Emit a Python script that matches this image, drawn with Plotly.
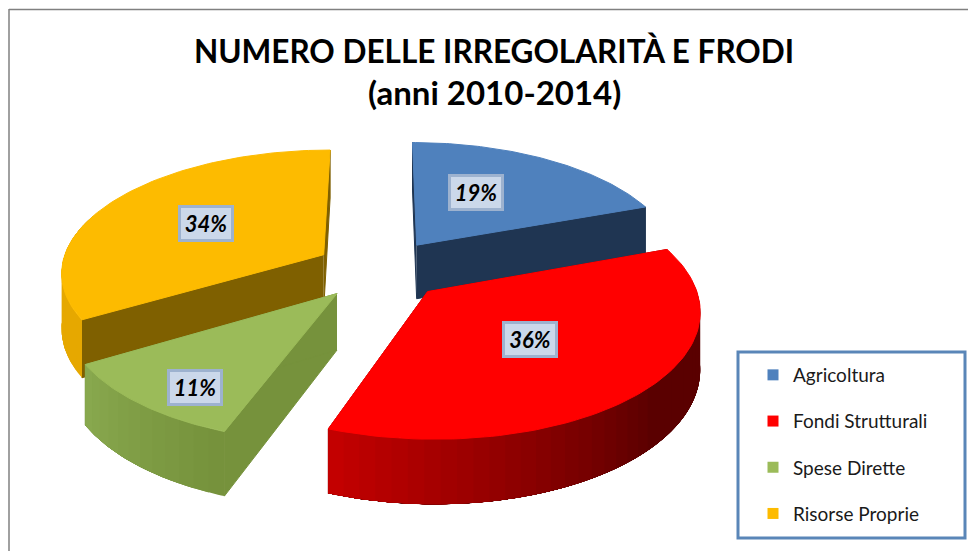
import numpy as np
import plotly.graph_objects as go

# ---------- data ----------
categories = ["Agricoltura", "Fondi Strutturali", "Spese Dirette", "Risorse Proprie"]
shares = [19.4, 36.2, 10.8, 33.6]
title_line_1 = "NUMERO DELLE IRREGOLARITÀ E FRODI"
title_line_2 = "(anni 2010-2014)"

# ---------- styles ----------
top_colors = ["#4F81BD", "#FF0000", "#9BBB59", "#FDBB00"]
wall_colors = ["#1F3552", "#8A0000", "#76923C", "#7F6000"]
rim_light = ["#1F3552", "#C80000", "#8AAA50", "#E6A800"]
rim_dark = ["#1F3552", "#5A0000", "#76923C", "#E6A800"]
FONT = "Lato, Carlito, Calibri, sans-serif"
W, H = 968, 551

# projection of the tilted pie onto the page (pixel axes)
X0, Y0, A, B, P, DEPTH, EXPLODE = 380, 269.5, 263, 122, 0.131, 55, 0.25
# label anchor inside each slice: radius in the disc, angle clockwise from top
label_r = [0.55, 0.50, 0.81, 0.55]
label_deg = [27.6, 135, 215, 299.5]
draw_order = [3, 0, 2, 1]


def project(u, v, z=0.0):
    w = 1 + P * v
    return X0 + A * u / w, Y0 - B * v / w + z * DEPTH / w


def hex_rgb(c):
    return np.array([int(c[i:i + 2], 16) for i in (1, 3, 5)], float)


def mix(c1, c2, t):
    r = hex_rgb(c1) * (1 - t) + hex_rgb(c2) * t
    return "rgb(%d,%d,%d)" % tuple(r)


def poly(xs, ys, color, width=1):
    return go.Scatter(x=list(xs), y=list(ys), mode="lines", fill="toself", fillcolor=color,
                      line=dict(color=color, width=width), hoverinfo="skip", showlegend=False)


edges = np.radians(np.concatenate([[0], np.cumsum(shares)]) * 3.6)
fig = go.Figure()
annos = []

for i in draw_order:
    t0, t1 = edges[i], edges[i + 1]
    mid = (t0 + t1) / 2
    cu, cv = EXPLODE * np.sin(mid), EXPLODE * np.cos(mid)
    th = np.linspace(t0, t1, 90)
    ru, rv = cu + np.sin(th), cv + np.cos(th)

    # radial walls
    for t in (t0, t1):
        eu, ev = cu + np.sin(t), cv + np.cos(t)
        p = [project(cu, cv), project(eu, ev), project(eu, ev, 1), project(cu, cv, 1)]
        fig.add_trace(poly([q[0] for q in p], [q[1] for q in p], wall_colors[i]))

    # outer rim: overlapping shaded strips, each painted from its angle to the rim's end
    lo, hi = max(t0, np.radians(85)), min(t1, np.radians(290))
    if hi > lo:
        steps = np.linspace(lo, hi, max(2, int(np.degrees(hi - lo) / 3) + 1))
        for a in steps[:-1]:
            seg = np.linspace(a, hi, 60)
            su, sv = cu + np.sin(seg), cv + np.cos(seg)
            x1, y1 = project(su, sv)
            x2, y2 = project(su[::-1], sv[::-1], 1)
            span = np.radians(70) if i == 1 else (hi - lo)
            k = np.clip((hi - a) / max(span, 1e-6), 0, 1)
            fig.add_trace(poly(np.r_[x1, x2], np.r_[y1, y2], mix(rim_light[i], rim_dark[i], k), width=0))

    # top face
    x, y = project(np.r_[cu, ru], np.r_[cv, rv])
    fig.add_trace(poly(np.r_[x, x[0]], np.r_[y, y[0]], top_colors[i]))

    # data label
    lt = np.radians(label_deg[i])
    lx, ly = project(cu + label_r[i] * np.sin(lt), cv + label_r[i] * np.cos(lt))
    annos.append(dict(x=lx, y=ly, xref="x", yref="y", text="<b><i>%d%%</i></b>" % round(shares[i]),
                      showarrow=False, font=dict(family=FONT, size=22, color="#000000"),
                      bgcolor="#CBD8EA", bordercolor="#9DB2CF", borderwidth=3,
                      width=48, height=29, align="center", valign="middle"))

# legend entries
for name, color in zip(categories, top_colors):
    fig.add_trace(go.Scatter(x=[None], y=[None], mode="markers", name=name, legendgroup=name,
                             marker=dict(symbol="square", size=11, color=color)))

annos.append(dict(x=494, y=92, xref="x", yref="y", text="<b>%s</b>" % title_line_2, showarrow=False,
                  font=dict(family=FONT, size=33, color="#000000")))

fig.update_layout(
    width=W, height=H, margin=dict(l=0, r=0, t=0, b=0),
    paper_bgcolor="white", plot_bgcolor="white",
    title=dict(text="<b>%s</b>" % title_line_1, x=494 / W, xanchor="center",
               y=1 - 52 / H, yanchor="middle", font=dict(family=FONT, size=31.5, color="#000000")),
    xaxis=dict(range=[0, W], visible=False, fixedrange=True),
    yaxis=dict(range=[H, 0], visible=False, fixedrange=True),
    legend=dict(x=753 / W, xanchor="left", y=1 - 356 / H, yanchor="top", tracegroupgap=18.5,
                bgcolor="rgba(0,0,0,0)", font=dict(family=FONT, size=19, color="#1A1A1A")),
    annotations=annos,
    shapes=[
        dict(type="line", xref="x", yref="y", x0=9, x1=W, y0=9.5, y1=9.5, line=dict(color="#808080", width=1.5)),
        dict(type="line", xref="x", yref="y", x0=9, x1=9, y0=9, y1=H, line=dict(color="#808080", width=1.5)),
        dict(type="rect", xref="x", yref="y", x0=738, x1=965, y0=352, y1=538,
             line=dict(color="#5A86B8", width=3)),
    ],
)

fig.write_html("out.html", config=dict(displayModeBar=False),
               post_script="document.body.style.margin='0';document.documentElement.style.overflow='hidden';")
